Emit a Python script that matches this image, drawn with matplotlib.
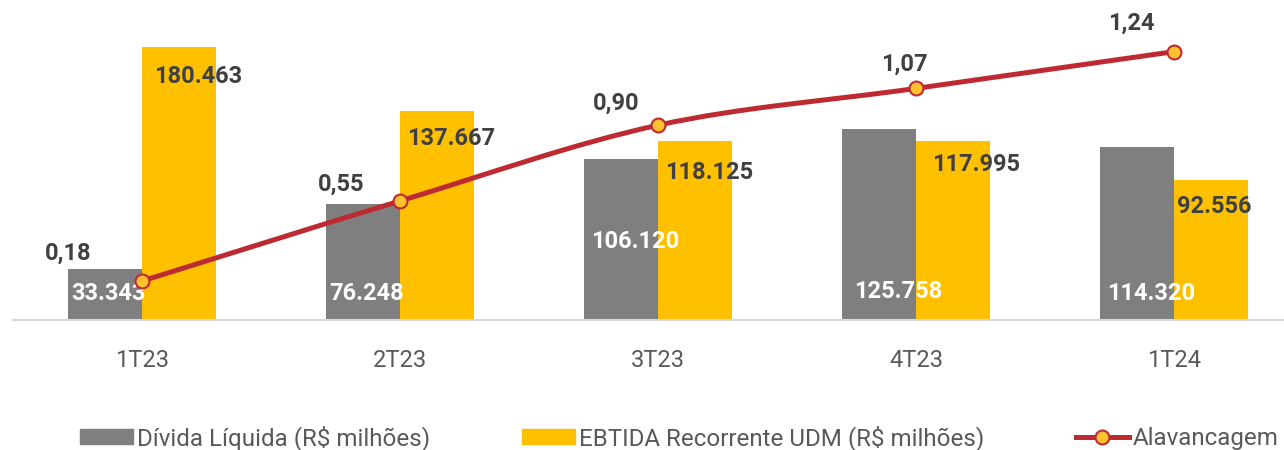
import matplotlib.pyplot as plt
from matplotlib.path import Path
from matplotlib.patches import PathPatch, Patch
from matplotlib.lines import Line2D

plt.rcParams["font.family"] = ["Roboto", "DejaVu Sans"]

# dados (R$ milhões)
quarters = ["1T23", "2T23", "3T23", "4T23", "1T24"]
divida_liquida = [33343, 76248, 106120, 125758, 114320]
ebitda_udm = [180463, 137667, 118125, 117995, 92556]
alavancagem = [0.18, 0.55, 0.90, 1.07, 1.24]

GRAY = "#7F7F7F"
YELLOW = "#FFC000"
RED = "#BE2A32"
MARKER = "#FFC12E"
DARK = "#404040"
TICK = "#595959"

# label nudges in pixels (hand placed in the original)
gray_offsets = [(3, 26), (4, 26), (14, 79), (19, 29), (14, 26)]
yellow_offsets = [(19, -30), (14, -27), (14, -31), (23, -23), (3, -27)]
line_offsets = [(-74, 28), (-59, 17), (-42, 22), (-12, 24), (-43, 28)]


def fmt_thousands(v):
    return f"{v:,.0f}".replace(",", ".")


def fmt_ratio(v):
    return f"{v:.2f}".replace(".", ",")


def smooth_path(xs, ys):
    # excel-like smoothed line: catmull-rom segments as cubic beziers
    pts = list(zip(xs, ys))
    n = len(pts)
    verts = [pts[0]]
    codes = [Path.MOVETO]
    for i in range(n - 1):
        p0 = pts[max(i - 1, 0)]
        p1 = pts[i]
        p2 = pts[i + 1]
        p3 = pts[min(i + 2, n - 1)]
        c1 = (p1[0] + (p2[0] - p0[0]) / 6, p1[1] + (p2[1] - p0[1]) / 6)
        c2 = (p2[0] - (p3[0] - p1[0]) / 6, p2[1] - (p3[1] - p1[1]) / 6)
        verts += [c1, c2, p2]
        codes += [Path.CURVE4] * 3
    return Path(verts, codes)


fig = plt.figure(figsize=(12.84, 4.5), dpi=100)
ax = fig.add_axes([13 / 1284, 130 / 450, 1290 / 1284, 303 / 450])
ax2 = ax.twinx()

x = list(range(len(quarters)))
w = 0.287
ax.bar([i - w / 2 for i in x], divida_liquida, width=w, color=GRAY)
ax.bar([i + w / 2 for i in x], ebitda_udm, width=w, color=YELLOW)

ax.set_xlim(-0.5, len(quarters) - 0.5)
ax.set_ylim(0, 200000)
ax2.set_ylim(0, 1.4)

for i in x:
    ax.annotate(fmt_thousands(divida_liquida[i]), xy=(i - w / 2, 0),
                xytext=gray_offsets[i], textcoords="offset pixels",
                ha="center", va="center", fontsize=17, fontweight="bold",
                color="white")
    ax.annotate(fmt_thousands(ebitda_udm[i]), xy=(i + w / 2, ebitda_udm[i]),
                xytext=yellow_offsets[i], textcoords="offset pixels",
                ha="center", va="center", fontsize=17, fontweight="bold",
                color=DARK)

ax2.add_patch(PathPatch(smooth_path(x, alavancagem), facecolor="none",
                        edgecolor=RED, lw=3.6, capstyle="round"))
ax2.plot(x, alavancagem, linestyle="none", marker="o", markersize=10,
         markerfacecolor=MARKER, markeredgecolor=RED, markeredgewidth=1.5)
for i in x:
    ax2.annotate(fmt_ratio(alavancagem[i]), xy=(i, alavancagem[i]),
                 xytext=line_offsets[i], textcoords="offset pixels",
                 ha="center", va="center", fontsize=17, fontweight="bold",
                 color=DARK)

for a in (ax, ax2):
    for side in ("top", "right", "left"):
        a.spines[side].set_visible(False)
    a.set_yticks([])
ax2.spines["bottom"].set_visible(False)
ax.spines["bottom"].set_color("#D9D9D9")
ax.spines["bottom"].set_linewidth(1.5)

ax.set_xticks(x)
ax.set_xticklabels(quarters, fontsize=17, color=TICK)
ax.tick_params(axis="x", length=0, pad=21)

handles = [
    Patch(color=GRAY, label="Dívida Líquida (R$ milhões)"),
    Patch(color=YELLOW, label="EBTIDA Recorrente UDM (R$ milhões)"),
    Line2D([], [], color=RED, lw=3.6, marker="o", markersize=10,
           markerfacecolor=MARKER, markeredgecolor=RED, markeredgewidth=1.5,
           label="Alavancagem"),
]
leg = fig.legend(handles=handles, ncol=3, loc="center left",
                 bbox_to_anchor=(80 / 1284, 1 - 438 / 450), frameon=False,
                 fontsize=17.4, handlelength=2.2, handleheight=0.55,
                 handletextpad=0.15, columnspacing=3.8, borderpad=0,
                 borderaxespad=0)
for t in leg.get_texts():
    t.set_color(TICK)

fig.savefig("out.png", dpi=100)
